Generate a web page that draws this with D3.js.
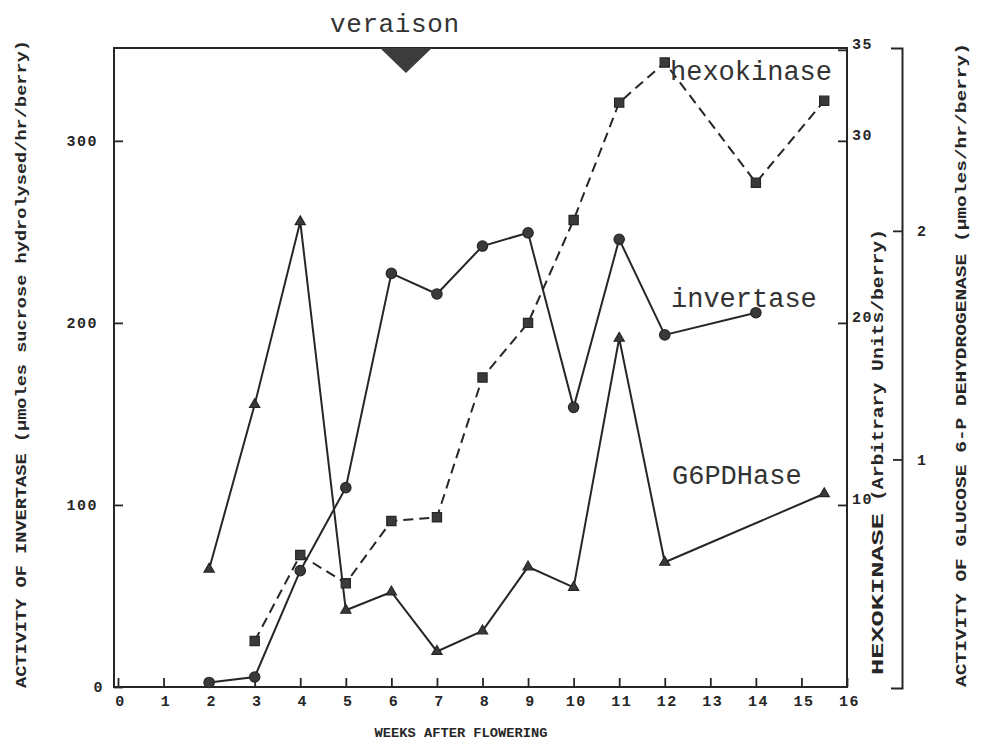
<!DOCTYPE html>
<html>
<head>
<meta charset="utf-8">
<script src="https://cdn.jsdelivr.net/npm/d3@7"></script>
<style>
  body { margin: 0; background: #fff; }
  svg { display: block; }
</style>
</head>
<body>
<svg id="chart" width="987" height="745"></svg>
<script>
// ---- data ---------------------------------------------------------------
const weekTicks = d3.range(0, 17);
const invertaseTicks = [0, 100, 200, 300];
const hexokinaseTicks = [10, 20, 30, 35];
const g6pdTicks = [1, 2];

// Invertase (µmoles sucrose hydrolysed / hr / berry)
const invertaseWeeks  = [2, 3, 4, 5, 6, 7, 8, 9, 10, 11, 12, 14];
const invertaseValues = [2.5, 5.5, 63.9, 109.5, 227.2, 215.9, 242.2, 249.5, 153.6, 245.9, 193.4, 205.6];

// Hexokinase (arbitrary units / berry)
const hexokinaseWeeks  = [3, 4, 5, 6, 7, 8, 9, 10, 11, 12, 14, 15.5];
const hexokinaseValues = [2.53, 7.25, 5.70, 9.12, 9.32, 17.0, 20.0, 25.65, 32.1, 34.3, 27.7, 32.2];

// Glucose 6-P dehydrogenase (µmoles / hr / berry)
const g6pdWeeks  = [2, 3, 4, 5, 6, 7, 8, 9, 10, 11, 12, 15.5];
const g6pdValues = [0.52, 1.24, 2.04, 0.34, 0.42, 0.16, 0.25, 0.53, 0.44, 1.53, 0.55, 0.85];

const veraisonWeek = 6.32;

// ---- layout ---------------------------------------------------------------
const svg = d3.select('#chart');
const ink = '#262626';
const frame = { left: 114, right: 847, top: 48, bottom: 687 };

const x    = d3.scaleLinear().domain([0, 16]).range([118, frame.right]);
const yInv = d3.scaleLinear().domain([0, 351]).range([frame.bottom, frame.top]);
const yHex = d3.scaleLinear().domain([0, 35.1]).range([frame.bottom, frame.top]);
const yG6  = d3.scaleLinear().domain([0, 2.8]).range([688, frame.top]);

const tickFont = 'Liberation Mono, DejaVu Sans Mono, monospace';

// plot frame
svg.append('rect')
  .attr('x', frame.left).attr('y', frame.top)
  .attr('width', frame.right - frame.left)
  .attr('height', frame.bottom - frame.top)
  .attr('fill', 'none').attr('stroke', ink).attr('stroke-width', 2);

function styleAxis(g) {
  g.selectAll('line').attr('stroke', ink).attr('stroke-width', 1.8);
  g.selectAll('text')
    .attr('fill', ink)
    .style('font-family', tickFont)
    .style('font-weight', 'bold')
    .style('font-size', '15px')
    .style('letter-spacing', '1.5px');
}

// left axis: invertase
const leftAxis = svg.append('g')
  .attr('transform', `translate(${frame.left},0)`)
  .call(d3.axisLeft(yInv).tickValues(invertaseTicks)
    .tickSizeInner(-9).tickSizeOuter(0).tickPadding(16));
leftAxis.select('.domain').remove();
styleAxis(leftAxis);
leftAxis.selectAll('.tick').filter(d => d === 0).select('text').attr('dx', 6);

// bottom axis: weeks
const bottomAxis = svg.append('g')
  .attr('transform', `translate(0,${frame.bottom})`)
  .call(d3.axisBottom(x).tickValues(weekTicks)
    .tickSizeInner(-9).tickSizeOuter(0).tickPadding(8));
bottomAxis.select('.domain').remove();
styleAxis(bottomAxis);
bottomAxis.selectAll('text').attr('dx', 2);

// inner right axis: hexokinase
const hexAxis = svg.append('g')
  .attr('transform', `translate(${frame.right},0)`)
  .call(d3.axisRight(yHex).tickValues(hexokinaseTicks)
    .tickSizeInner(-9).tickSizeOuter(0).tickPadding(5));
hexAxis.select('.domain').remove();
styleAxis(hexAxis);
hexAxis.selectAll('text').attr('dy', '-0.1em');

// outer right axis: G6PDHase (bracket-shaped)
const g6Axis = svg.append('g')
  .attr('transform', 'translate(902,0)')
  .call(d3.axisRight(yG6).tickValues(g6pdTicks).tickFormat(d3.format('d'))
    .tickSizeInner(-9).tickSizeOuter(-11).tickPadding(15));
g6Axis.select('.domain').attr('stroke', ink).attr('stroke-width', 2);
styleAxis(g6Axis);

// ---- axis titles ----------------------------------------------------------
function vTitle(text, cx, cy, len, size) {
  svg.append('text')
    .attr('transform', `translate(${cx},${cy}) rotate(-90)`)
    .attr('text-anchor', 'middle')
    .attr('dominant-baseline', 'central')
    .attr('textLength', len).attr('lengthAdjust', 'spacingAndGlyphs')
    .attr('fill', ink)
    .style('font-family', tickFont).style('font-weight', 'bold')
    .style('font-size', size + 'px')
    .text(text);
}
vTitle('ACTIVITY OF INVERTASE (\u00b5moles sucrose hydrolysed/hr/berry)', 22, 364, 648, 14);
vTitle('HEXOKINASE', 879, 594, 162, 16);
vTitle('(Arbitrary Units/berry)', 879, 365, 272, 16);
vTitle('ACTIVITY OF GLUCOSE 6-P DEHYDROGENASE (\u00b5moles/hr/berry)', 962, 365, 644, 14);

svg.append('text')
  .attr('x', 461).attr('y', 737)
  .attr('text-anchor', 'middle')
  .attr('textLength', 173).attr('lengthAdjust', 'spacingAndGlyphs')
  .attr('fill', ink)
  .style('font-family', tickFont).style('font-weight', 'bold').style('font-size', '13px')
  .text('WEEKS AFTER FLOWERING');

// ---- series ---------------------------------------------------------------
function series(weeks, values, yScale, dashed, symbolType, symbolSize) {
  const pts = weeks.map((w, i) => [x(w), yScale(values[i])]);
  svg.append('path')
    .attr('d', d3.line()(pts))
    .attr('fill', 'none')
    .attr('stroke', ink)
    .attr('stroke-width', 2)
    .attr('stroke-dasharray', dashed ? '10,6' : null);
  svg.append('g').selectAll('path')
    .data(pts).join('path')
    .attr('transform', d => `translate(${d[0]},${d[1]})`)
    .attr('d', d3.symbol().type(symbolType).size(symbolSize))
    .attr('fill', '#3a3a3a')
    .attr('stroke', ink).attr('stroke-width', 1.2);
}

series(g6pdWeeks, g6pdValues, yG6, false, d3.symbolTriangle, 45);
series(invertaseWeeks, invertaseValues, yInv, false, d3.symbolCircle, 85);
series(hexokinaseWeeks, hexokinaseValues, yHex, true, d3.symbolSquare, 85);

// ---- annotations ----------------------------------------------------------
const vx = x(veraisonWeek);
svg.append('path')
  .attr('d', `M${vx - 26},${frame.top} L${vx + 26},${frame.top} L${vx},${frame.top + 25} Z`)
  .attr('fill', '#3c3c3c');

svg.append('text')
  .attr('x', 330).attr('y', 32)
  .attr('fill', '#333')
  .style('font-family', tickFont).style('font-size', '26px')
  .style('letter-spacing', '0.6px')
  .text('veraison');

const seriesLabels = [
  { text: 'hexokinase', x: 670, y: 80 },
  { text: 'invertase',  x: 671, y: 307 },
  { text: 'G6PDHase',   x: 672, y: 484 }
];
svg.append('g').selectAll('text')
  .data(seriesLabels).join('text')
  .attr('x', d => d.x).attr('y', d => d.y)
  .attr('fill', '#333')
  .style('font-family', tickFont).style('font-size', '27px')
  .text(d => d.text);
</script>
</body>
</html>
